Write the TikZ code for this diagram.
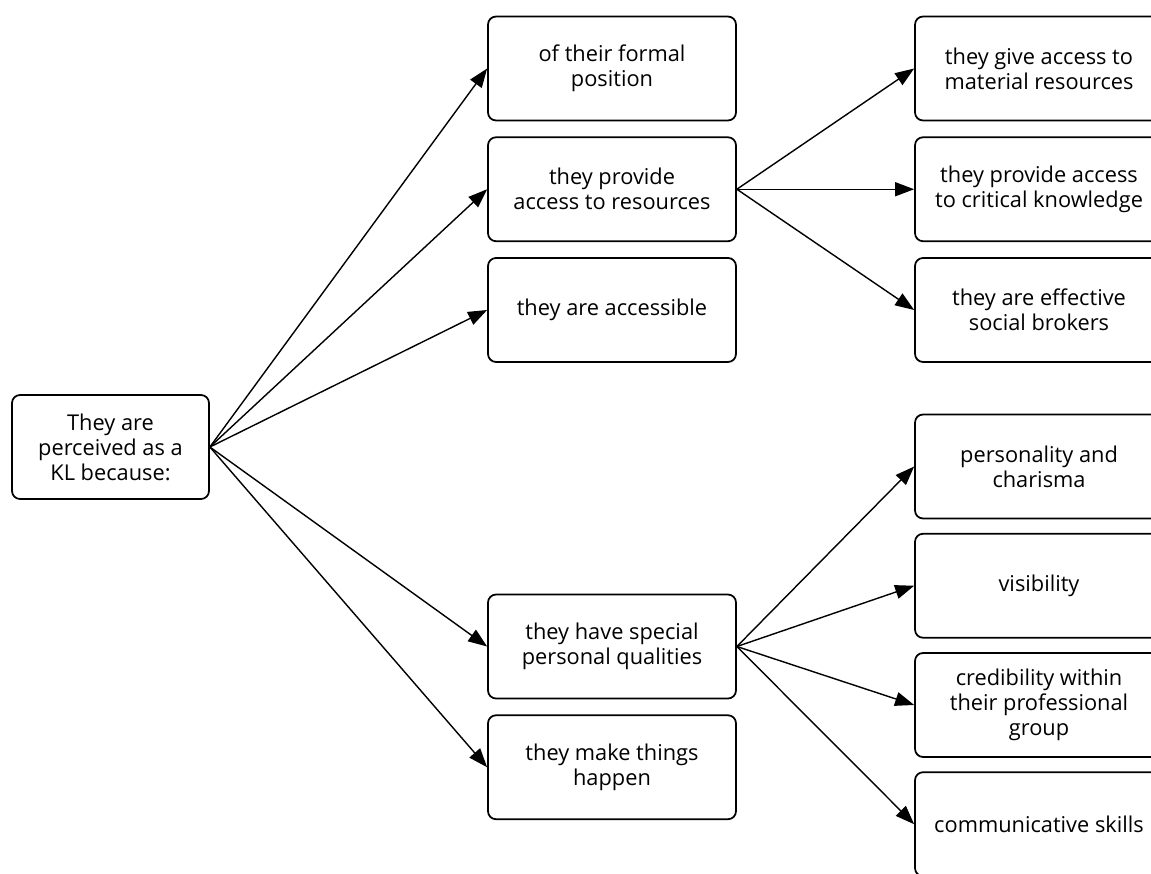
\documentclass[tikz,border=0pt]{standalone}
\usepackage{fontspec}
\setmainfont{Open Sans}
\usepackage{tikz}
\usetikzlibrary{arrows.meta,positioning}

\begin{document}
\begin{tikzpicture}[% styles for all boxes and arrows, one unit is one pixel of the page
		x=0.02cm,y=-0.02cm,
		every node/.style={
			align=center,  		% use this so that the "\\" for line break works
			font=\fontsize{12.4}{14.2}\selectfont
		},
		box/.style={
			rectangle,rounded corners=0.16cm,draw=black,line width=1pt,
			minimum width=4.96cm,minimum height=2.08cm,inner sep=2pt
		},
		every edge/.style={draw,line width=0.8pt,-{Triangle[length=0.38cm,width=0.28cm]}}
	]
	\useasboundingbox (0,0) rectangle (1151,873);
	% root
	\node[box,minimum width=3.94cm](R1) at (110.5,447){They are \\ perceived as a \\ KL because:};
	% middle column
	\node[box](R2) at (612,68.5){of their formal \\ position};
	\node[box](R3)[below=0.3cm of R2]{they provide \\ access to resources};
	\node[box](R4)[below=0.3cm of R3]{they are accessible};
	\node[box](R5) at (612,646.5){they have special \\ personal qualities};
	\node[box](R6)[below=0.3cm of R5]{they make things \\ happen};
	% right column, cut by the page edge
	\node[box](R7) at (1039,68.5){they give access to \\ material resources};
	\node[box](R8)[below=0.3cm of R7]{they provide access \\ to critical knowledge};
	\node[box](R9)[below=0.3cm of R8]{they are effective \\ social brokers};
	\node[box](R10) at (1039,466.5){personality and \\ charisma};
	\node[box](R11)[below=0.27cm of R10]{visibility};
	\node[box](R12)[below=0.27cm of R11]{credibility within \\ their professional \\ group};
	\node[box](R13)[below=0.27cm of R12]{communicative skills};
	\path
	(R1.east)edge (R2.west)
	(R1.east)edge (R3.west)
	(R1.east)edge (R4.west)
	(R1.east)edge (R5.west)
	(R1.east)edge (R6.west)
	(R3.east)edge (R7.west)
	(R3.east)edge (R8.west)
	(R3.east)edge (R9.west)
	(R5.east)edge (R10.west)
	(R5.east)edge (R11.west)
	(R5.east)edge (R12.west)
	(R5.east)edge (R13.west)
	;
\end{tikzpicture}
\end{document}
